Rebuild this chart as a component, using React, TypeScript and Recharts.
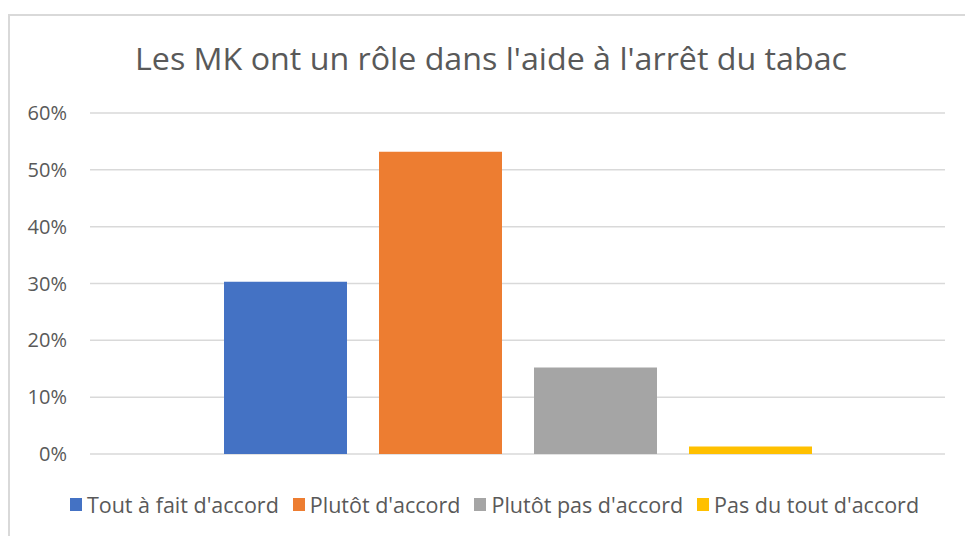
import { Bar, BarChart, CartesianGrid, Legend, XAxis, YAxis } from 'recharts';

const categories = ['Les MK ont un rôle dans l\'aide à l\'arrêt du tabac'];
const seriesNames = [
  'Tout à fait d\'accord',
  'Plutôt d\'accord',
  'Plutôt pas d\'accord',
  'Pas du tout d\'accord',
];
const seriesValues = [0.303, 0.532, 0.152, 0.013];
const seriesColors = ['#4472C4', '#ED7D31', '#A5A5A5', '#FFC000'];
const yTicks = [0, 0.1, 0.2, 0.3, 0.4, 0.5, 0.6];

const data = categories.map((name) => {
  const row: Record<string, string | number> = { name };
  seriesNames.forEach((s, i) => {
    row[s] = seriesValues[i];
  });
  return row;
});

const FONT = '"Open Sans", "Noto Sans", sans-serif';
const TEXT = '#595959';

function LegendContent() {
  return (
    <div
      style={{
        display: 'flex',
        justifyContent: 'center',
        alignItems: 'center',
        fontFamily: FONT,
        fontSize: 21.5,
        color: TEXT,
        whiteSpace: 'nowrap',
      }}
    >
      {seriesNames.map((s, i) => (
        <div key={s} style={{ display: 'flex', alignItems: 'center', marginRight: i < 3 ? 14 : 0 }}>
          <span
            style={{
              display: 'inline-block',
              width: 12,
              height: 13,
              background: seriesColors[i],
              marginRight: 5,
            }}
          />
          <span>{s}</span>
        </div>
      ))}
    </div>
  );
}

export default function App() {
  return (
    <div
      style={{
        position: 'absolute',
        left: 0,
        top: 0,
        width: 965,
        height: 536,
        overflow: 'hidden',
        background: '#fff',
      }}
    >
      <div
        style={{
          position: 'absolute',
          left: 8,
          top: 14,
          width: 980,
          height: 560,
          border: '2px solid #d9d9d9',
        }}
      />
      <svg width={965} height={100} style={{ position: 'absolute', left: 0, top: 0 }}>
        <text
          x={491}
          y={70}
          textAnchor="middle"
          fontFamily={FONT}
          fontSize={31}
          fill={TEXT}
          textLength={712}
          lengthAdjust="spacingAndGlyphs"
        >
          {categories[0]}
        </text>
      </svg>
      <div style={{ position: 'absolute', left: 0, top: 0 }}>
        <BarChart
          width={965}
          height={536}
          data={data}
          margin={{ top: 113, right: 20, bottom: 82, left: 0 }}
          barCategoryGap={134}
          barGap={32}
        >
          <CartesianGrid vertical={false} stroke="#d9d9d9" strokeWidth={1.5} />
          <XAxis dataKey="name" hide />
          <YAxis
            width={90}
            domain={[0, 0.6]}
            ticks={yTicks}
            interval={0}
            tickFormatter={(v: number) => `${Math.round(v * 100)}%`}
            tick={{ fontSize: 20, fill: TEXT, fontFamily: FONT }}
            tickLine={false}
            axisLine={false}
            tickSize={0}
            tickMargin={23}
          />
          <Legend
            layout="horizontal"
            verticalAlign="middle"
            align="center"
            content={() => <LegendContent />}
            wrapperStyle={{ top: 490, left: 12, width: 965 }}
          />
          {seriesNames.map((s, i) => (
            <Bar key={s} dataKey={s} fill={seriesColors[i]} isAnimationActive={false} />
          ))}
        </BarChart>
      </div>
    </div>
  );
}
